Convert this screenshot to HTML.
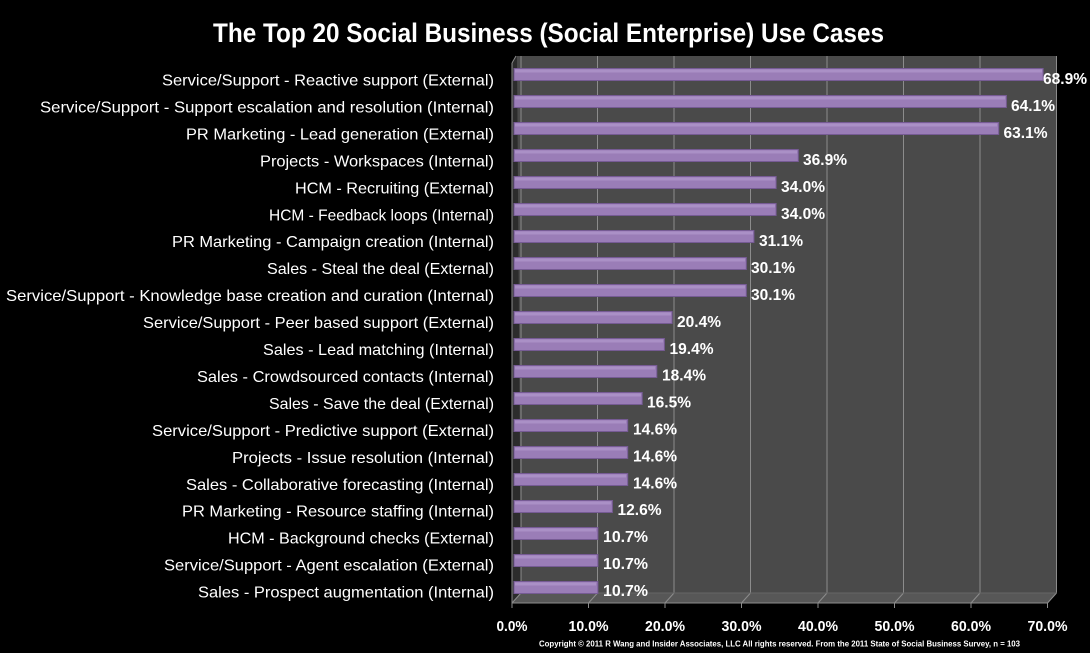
<!DOCTYPE html>
<html><head><meta charset="utf-8"><style>
html,body{margin:0;padding:0;background:#000;}
svg{display:block;}
text{font-family:"Liberation Sans",Arial,sans-serif;fill:#fff;}
</style></head><body>
<svg width="1090" height="653" viewBox="0 0 1090 653" xmlns="http://www.w3.org/2000/svg">
<rect width="1090" height="653" fill="#000"/>
<text x="548.5" y="42" font-size="27" font-weight="bold" text-anchor="middle" textLength="671" lengthAdjust="spacingAndGlyphs">The Top 20 Social Business (Social Enterprise) Use Cases</text>

<!-- back wall -->
<rect x="516" y="56" width="541" height="537" fill="#4a4a4a"/>
<!-- left wall -->
<polygon points="512,63 516,56 517,56 521,593 512,603" fill="#2c2c2c"/>
<!-- floor -->
<polygon points="512,603 521,593 1057,593 1048,603" fill="#575757"/>

<g stroke="#8c8c8c" stroke-width="1" fill="none">
<polyline points="521,56 521,593 512,603 512,608"/>
<line x1="512" y1="63" x2="512" y2="603"/>
<line x1="512" y1="63" x2="516" y2="56"/>
<polyline points="597.5,56 597.5,593 588.5,603 588.5,608"/>
<polyline points="674,56 674,593 665,603 665,608"/>
<polyline points="750.5,56 750.5,593 741.5,603 741.5,608"/>
<polyline points="827,56 827,593 818,603 818,608"/>
<polyline points="903.5,56 903.5,593 894.5,603 894.5,608"/>
<polyline points="980,56 980,593 971,603 971,608"/>
<polyline points="1056.5,56 1056.5,593 1047.5,603 1047.5,608"/>
<line x1="512" y1="603" x2="1048" y2="603"/>
<line x1="521" y1="593" x2="1057" y2="593" stroke="#666"/>
</g>

<!-- bars -->
<g>
<rect x="514" y="68.5" width="529.1" height="12" fill="#9a7db7" stroke="#765b94"/><rect x="515" y="69.5" width="527" height="3" fill="#aa90c6"/>
<rect x="514" y="95.5" width="492.4" height="12" fill="#9a7db7" stroke="#765b94"/><rect x="515" y="96.5" width="490" height="3" fill="#aa90c6"/>
<rect x="514" y="122.5" width="484.7" height="12" fill="#9a7db7" stroke="#765b94"/><rect x="515" y="123.5" width="482" height="3" fill="#aa90c6"/>
<rect x="514" y="149.5" width="284.3" height="12" fill="#9a7db7" stroke="#765b94"/><rect x="515" y="150.5" width="282" height="3" fill="#aa90c6"/>
<rect x="514" y="176.5" width="262.1" height="12" fill="#9a7db7" stroke="#765b94"/><rect x="515" y="177.5" width="260" height="3" fill="#aa90c6"/>
<rect x="514" y="203.5" width="262.1" height="12" fill="#9a7db7" stroke="#765b94"/><rect x="515" y="204.5" width="260" height="3" fill="#aa90c6"/>
<rect x="514" y="230.5" width="239.9" height="12" fill="#9a7db7" stroke="#765b94"/><rect x="515" y="231.5" width="238" height="3" fill="#aa90c6"/>
<rect x="514" y="257.5" width="232.3" height="12" fill="#9a7db7" stroke="#765b94"/><rect x="515" y="258.5" width="230" height="3" fill="#aa90c6"/>
<rect x="514" y="284.5" width="232.3" height="12" fill="#9a7db7" stroke="#765b94"/><rect x="515" y="285.5" width="230" height="3" fill="#aa90c6"/>
<rect x="514" y="311.5" width="158.1" height="12" fill="#9a7db7" stroke="#765b94"/><rect x="515" y="312.5" width="156" height="3" fill="#aa90c6"/>
<rect x="514" y="338.5" width="150.4" height="12" fill="#9a7db7" stroke="#765b94"/><rect x="515" y="339.5" width="148" height="3" fill="#aa90c6"/>
<rect x="514" y="365.5" width="142.8" height="12" fill="#9a7db7" stroke="#765b94"/><rect x="515" y="366.5" width="140" height="3" fill="#aa90c6"/>
<rect x="514" y="392.5" width="128.2" height="12" fill="#9a7db7" stroke="#765b94"/><rect x="515" y="393.5" width="126" height="3" fill="#aa90c6"/>
<rect x="514" y="419.5" width="113.7" height="12" fill="#9a7db7" stroke="#765b94"/><rect x="515" y="420.5" width="111" height="3" fill="#aa90c6"/>
<rect x="514" y="446.5" width="113.7" height="12" fill="#9a7db7" stroke="#765b94"/><rect x="515" y="447.5" width="111" height="3" fill="#aa90c6"/>
<rect x="514" y="473.5" width="113.7" height="12" fill="#9a7db7" stroke="#765b94"/><rect x="515" y="474.5" width="111" height="3" fill="#aa90c6"/>
<rect x="514" y="500.5" width="98.4" height="12" fill="#9a7db7" stroke="#765b94"/><rect x="515" y="501.5" width="96" height="3" fill="#aa90c6"/>
<rect x="514" y="527.5" width="83.9" height="12" fill="#9a7db7" stroke="#765b94"/><rect x="515" y="528.5" width="81" height="3" fill="#aa90c6"/>
<rect x="514" y="554.5" width="83.9" height="12" fill="#9a7db7" stroke="#765b94"/><rect x="515" y="555.5" width="81" height="3" fill="#aa90c6"/>
<rect x="514" y="581.5" width="83.9" height="12" fill="#9a7db7" stroke="#765b94"/><rect x="515" y="582.5" width="81" height="3" fill="#aa90c6"/>
</g>

<!-- value labels -->
<g font-size="16" font-weight="bold">
<text x="1043" y="84" textLength="44" lengthAdjust="spacingAndGlyphs">68.9%</text>
<text x="1011" y="111" textLength="44" lengthAdjust="spacingAndGlyphs">64.1%</text>
<text x="1003.5" y="138" textLength="44" lengthAdjust="spacingAndGlyphs">63.1%</text>
<text x="803" y="165" textLength="44" lengthAdjust="spacingAndGlyphs">36.9%</text>
<text x="781" y="192" textLength="44" lengthAdjust="spacingAndGlyphs">34.0%</text>
<text x="781" y="219" textLength="44" lengthAdjust="spacingAndGlyphs">34.0%</text>
<text x="759" y="246" textLength="44" lengthAdjust="spacingAndGlyphs">31.1%</text>
<text x="751" y="273" textLength="44" lengthAdjust="spacingAndGlyphs">30.1%</text>
<text x="751" y="300" textLength="44" lengthAdjust="spacingAndGlyphs">30.1%</text>
<text x="677" y="327" textLength="44" lengthAdjust="spacingAndGlyphs">20.4%</text>
<text x="669.5" y="354" textLength="44" lengthAdjust="spacingAndGlyphs">19.4%</text>
<text x="662" y="380.5" textLength="44" lengthAdjust="spacingAndGlyphs">18.4%</text>
<text x="647" y="407.5" textLength="44" lengthAdjust="spacingAndGlyphs">16.5%</text>
<text x="633" y="434.5" textLength="44" lengthAdjust="spacingAndGlyphs">14.6%</text>
<text x="633" y="461.5" textLength="44" lengthAdjust="spacingAndGlyphs">14.6%</text>
<text x="633" y="488.5" textLength="44" lengthAdjust="spacingAndGlyphs">14.6%</text>
<text x="617.5" y="515" textLength="44" lengthAdjust="spacingAndGlyphs">12.6%</text>
<text x="603" y="542" textLength="45" lengthAdjust="spacingAndGlyphs">10.7%</text>
<text x="603" y="569" textLength="45" lengthAdjust="spacingAndGlyphs">10.7%</text>
<text x="603" y="596" textLength="45" lengthAdjust="spacingAndGlyphs">10.7%</text>
</g>

<!-- category labels -->
<g font-size="16" text-anchor="end">
<text x="494" y="85.5" textLength="332" lengthAdjust="spacingAndGlyphs">Service/Support - Reactive support (External)</text>
<text x="494" y="112.5" textLength="454" lengthAdjust="spacingAndGlyphs">Service/Support - Support escalation and resolution (Internal)</text>
<text x="494" y="139.4" textLength="308" lengthAdjust="spacingAndGlyphs">PR Marketing - Lead generation (External)</text>
<text x="494" y="166.4" textLength="234" lengthAdjust="spacingAndGlyphs">Projects - Workspaces (Internal)</text>
<text x="494" y="193.3" textLength="199" lengthAdjust="spacingAndGlyphs">HCM - Recruiting (External)</text>
<text x="494" y="220.3" textLength="225" lengthAdjust="spacingAndGlyphs">HCM - Feedback loops (Internal)</text>
<text x="494" y="247.2" textLength="322" lengthAdjust="spacingAndGlyphs">PR Marketing - Campaign creation (Internal)</text>
<text x="494" y="274.2" textLength="227" lengthAdjust="spacingAndGlyphs">Sales - Steal the deal (External)</text>
<text x="494" y="301.1" textLength="488" lengthAdjust="spacingAndGlyphs">Service/Support - Knowledge base creation and curation (Internal)</text>
<text x="494" y="328.1" textLength="351" lengthAdjust="spacingAndGlyphs">Service/Support - Peer based support (External)</text>
<text x="494" y="355" textLength="231" lengthAdjust="spacingAndGlyphs">Sales - Lead matching (Internal)</text>
<text x="494" y="382" textLength="297" lengthAdjust="spacingAndGlyphs">Sales - Crowdsourced contacts (Internal)</text>
<text x="494" y="408.9" textLength="225" lengthAdjust="spacingAndGlyphs">Sales - Save the deal (External)</text>
<text x="494" y="435.9" textLength="342" lengthAdjust="spacingAndGlyphs">Service/Support - Predictive support (External)</text>
<text x="494" y="462.8" textLength="262" lengthAdjust="spacingAndGlyphs">Projects - Issue resolution (Internal)</text>
<text x="494" y="489.8" textLength="308" lengthAdjust="spacingAndGlyphs">Sales - Collaborative forecasting (Internal)</text>
<text x="494" y="516.7" textLength="312" lengthAdjust="spacingAndGlyphs">PR Marketing - Resource staffing (Internal)</text>
<text x="494" y="543.7" textLength="266" lengthAdjust="spacingAndGlyphs">HCM - Background checks (External)</text>
<text x="494" y="570.6" textLength="330" lengthAdjust="spacingAndGlyphs">Service/Support - Agent escalation (External)</text>
<text x="494" y="597.6" textLength="296" lengthAdjust="spacingAndGlyphs">Sales - Prospect augmentation (Internal)</text>
</g>

<!-- x axis labels -->
<g font-size="15" font-weight="bold" text-anchor="middle">
<text x="512" y="631" textLength="31" lengthAdjust="spacingAndGlyphs">0.0%</text>
<text x="588.5" y="631" textLength="40" lengthAdjust="spacingAndGlyphs">10.0%</text>
<text x="665" y="631" textLength="40" lengthAdjust="spacingAndGlyphs">20.0%</text>
<text x="741.5" y="631" textLength="40" lengthAdjust="spacingAndGlyphs">30.0%</text>
<text x="818" y="631" textLength="40" lengthAdjust="spacingAndGlyphs">40.0%</text>
<text x="894.5" y="631" textLength="40" lengthAdjust="spacingAndGlyphs">50.0%</text>
<text x="971" y="631" textLength="40" lengthAdjust="spacingAndGlyphs">60.0%</text>
<text x="1047.5" y="631" textLength="40" lengthAdjust="spacingAndGlyphs">70.0%</text>
</g>

<text x="539" y="646.5" font-size="8" font-weight="bold" textLength="481" lengthAdjust="spacingAndGlyphs">Copyright © 2011 R Wang and Insider Associates, LLC All rights reserved.  From the 2011 State of Social Business Survey, n = 103</text>
</svg>
</body></html>
